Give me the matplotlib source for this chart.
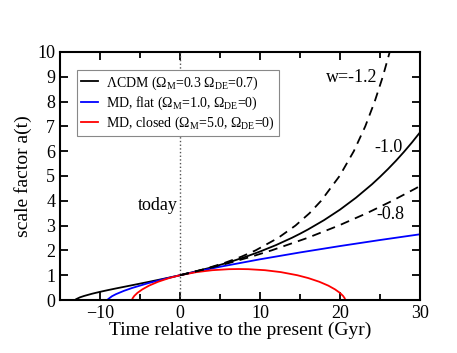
import matplotlib
matplotlib.use("Agg")
import matplotlib.pyplot as plt
from matplotlib.ticker import MultipleLocator

plt.rcParams['font.family'] = ['Liberation Serif', 'DejaVu Serif']
plt.rcParams['mathtext.fontset'] = 'custom'
plt.rcParams['mathtext.rm'] = 'Liberation Serif'
plt.rcParams['mathtext.it'] = 'Liberation Serif'

# LCDM (Om=0.3, ODE=0.7), time relative to today in Gyr
t_lcdm = [-13.1, -13.0, -12.5, -12, -11, -10, -9, -8, -6, -4, -2, 0, 2, 4, 6,
          8, 10, 12, 14, 15, 16, 18, 20, 22, 24, 25, 26, 27, 28, 29, 30]
a_lcdm = [0.0, 0.033, 0.110, 0.164, 0.254, 0.331, 0.401, 0.468, 0.597, 0.726,
          0.861, 1.0, 1.156, 1.323, 1.510, 1.719, 1.954, 2.215, 2.510, 2.672,
          2.844, 3.219, 3.643, 4.124, 4.665, 4.964, 5.279, 5.614, 5.972,
          6.352, 6.757]

# flat matter dominated
t_flat = [-9.05, -9.0, -8.5, -8, -7, -6, -4, -2, 0, 2, 5, 10, 15, 20, 25, 30]
a_flat = [0.0, 0.033, 0.155, 0.238, 0.372, 0.485, 0.678, 0.847, 1.0, 1.142,
          1.341, 1.642, 1.918, 2.176, 2.419, 2.650]

# closed matter dominated (Om=5)
t_closed = [-6.0, -5.99, -5.91, -5.71, -5.33, -4.72, -3.87, -2.75, -1.37, 0,
            2.07, 4.05, 6.13, 7.33, 8.54, 10.62, 12.60, 14.67, 16.04, 17.42,
            18.54, 19.39, 20.0, 20.38, 20.58, 20.67, 30]
a_closed = [0.0, 0.019, 0.077, 0.168, 0.287, 0.428, 0.581, 0.736, 0.885, 1.0,
            1.126, 1.203, 1.244, 1.25, 1.244, 1.203, 1.126, 1.0, 0.885, 0.736,
            0.581, 0.428, 0.287, 0.168, 0.077, 0.0, 0.0]

# dark energy with w=-1.2 and w=-0.8
t_w12 = [0, 3.08, 5.60, 7.69, 9.44, 12.25, 14.43, 16.19, 17.64, 19.95, 21.73,
         23.16, 24.34, 25.35, 26.22, 26.98]
a_w12 = [1.0, 1.25, 1.5, 1.75, 2.0, 2.5, 3.0, 3.5, 4.0, 5.0, 6.0, 7.0, 8.0,
         9.0, 10.0, 11.0]
t_w08 = [0, 3.25, 6.21, 8.93, 11.43, 15.90, 19.83, 23.35, 26.54, 29.47, 30]
a_w08 = [1.0, 1.25, 1.5, 1.75, 2.0, 2.5, 3.0, 3.5, 4.0, 4.5, 4.6]

fig = plt.figure(figsize=(4.57, 3.53), dpi=100)
ax = fig.add_axes([0.1313, 0.150, 0.7877, 0.703])

ax.plot([0, 0], [0, 10], ls=':', color='#555555', lw=1.0)
ax.plot(t_lcdm, a_lcdm, color='black', lw=1.3,
        label=r'$\Lambda$CDM ($\Omega_{\rm M}$=0.3 $\Omega_{\rm DE}$=0.7)')
ax.plot(t_flat, a_flat, color='#0000ff', lw=1.3,
        label=r'MD, flat ($\Omega_{\rm M}$=1.0, $\Omega_{\rm DE}$=0)')
ax.plot(t_closed, a_closed, color='#ff0000', lw=1.3,
        label=r'MD, closed ($\Omega_{\rm M}$=5.0, $\Omega_{\rm DE}$=0)')
ax.plot(t_w12, a_w12, color='black', lw=1.3, ls=(0, (5, 3.5)))
ax.plot(t_w08, a_w08, color='black', lw=1.3, ls=(0, (5, 3.5)))

ax.text(21.5, 8.95, 'w=-1.2', fontsize=13, ha='center', va='center')
ax.text(26.1, 6.13, '-1.0', fontsize=13, ha='center', va='center')
ax.text(26.25, 3.43, '-0.8', fontsize=13, ha='center', va='center')
ax.text(-0.3, 3.83, 'today', fontsize=13, ha='right', va='center')

ax.set_xlim(-15, 30)
ax.set_ylim(0, 10)
ax.xaxis.set_major_locator(MultipleLocator(10))
ax.xaxis.set_minor_locator(MultipleLocator(5))
ax.yaxis.set_major_locator(MultipleLocator(1))
ax.tick_params(which='both', direction='in', top=True, right=True,
               labelsize=13, width=1.3)
ax.tick_params(which='major', length=6)
ax.tick_params(which='minor', length=4)
for s in ax.spines.values():
    s.set_linewidth(1.5)

ax.set_xlabel('Time relative to the present (Gyr)', fontsize=14, labelpad=0)
ax.set_ylabel('scale factor a(t)', fontsize=14, labelpad=4)

leg = ax.legend(loc='upper left', bbox_to_anchor=(0.047, 0.927),
                borderaxespad=0, fontsize=10,
                handlelength=1.2, handletextpad=0.6, borderpad=0.3,
                labelspacing=0.2, fancybox=False, framealpha=1)
leg.get_frame().set_edgecolor('#888888')
leg.get_frame().set_linewidth(0.8)

fig.savefig('out.png', dpi=100)
